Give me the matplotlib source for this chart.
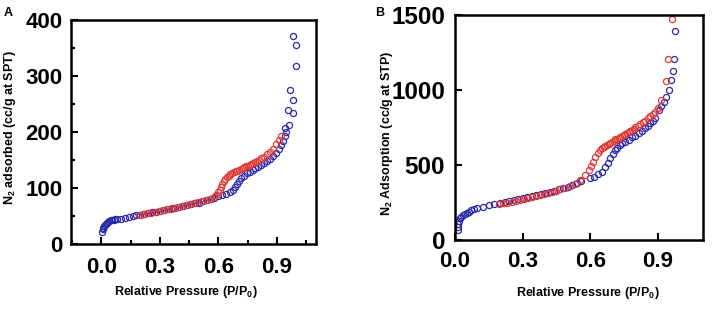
import matplotlib
matplotlib.use("Agg")
import matplotlib.pyplot as plt
from matplotlib.ticker import MultipleLocator

plt.rcParams['font.family'] = ['Liberation Sans', 'DejaVu Sans']
plt.rcParams['font.weight'] = 'bold'
plt.rcParams['mathtext.fontset'] = 'custom'
plt.rcParams['mathtext.rm'] = 'Liberation Sans:bold'
plt.rcParams['mathtext.it'] = 'Liberation Sans:bold'
plt.rcParams['mathtext.bf'] = 'Liberation Sans:bold'
plt.rcParams['mathtext.default'] = 'rm'

# ---- panel A : adsorption (blue) / desorption (red) ----
a_ads_p = [0.005, 0.008, 0.011, 0.014, 0.018, 0.022, 0.027, 0.034, 0.041, 0.048, 0.056, 0.064,
           0.072, 0.08, 0.10, 0.12, 0.14, 0.16, 0.18, 0.20, 0.22, 0.24, 0.26, 0.28, 0.30, 0.32,
           0.34, 0.36, 0.38, 0.40, 0.42, 0.44, 0.46, 0.48, 0.50, 0.52, 0.54, 0.56, 0.58, 0.60,
           0.62, 0.64, 0.66, 0.675, 0.685, 0.695, 0.705, 0.715, 0.73, 0.745, 0.76, 0.775, 0.79,
           0.805, 0.82, 0.835, 0.85, 0.865, 0.88, 0.895, 0.91, 0.92, 0.93, 0.94, 0.945, 0.94,
           0.962, 0.98, 0.957, 0.983, 0.969, 0.995, 0.996, 0.983]
a_ads_v = [22, 26, 29, 32, 34, 36, 38, 39.5, 41, 42, 43, 43.5,
           44, 44.5, 45.5, 47, 48, 49.5, 51, 52, 53.5, 55, 56.5, 58, 59.5, 61,
           62, 63.5, 65, 66.5, 68, 69.5, 71, 72.5, 74, 76, 78, 80, 83, 86,
           88, 90, 93, 96, 101, 107, 113, 118, 122, 126, 129, 132, 135,
           138, 141, 145, 148, 152, 157, 163, 169, 176, 184, 193, 200, 207,
           213, 234, 240, 257, 275, 317, 355, 372]
a_des_p = [0.195, 0.215, 0.235, 0.255, 0.275, 0.295, 0.315, 0.335, 0.355, 0.375, 0.395, 0.415,
           0.435, 0.455, 0.475, 0.495, 0.515, 0.535, 0.555, 0.575, 0.59, 0.60, 0.607, 0.614,
           0.62, 0.627, 0.635, 0.643, 0.652, 0.661, 0.67, 0.679, 0.688, 0.697, 0.706, 0.715,
           0.724, 0.733, 0.742, 0.751, 0.76, 0.769, 0.778, 0.787, 0.797, 0.808, 0.82, 0.833,
           0.847, 0.862, 0.878, 0.895, 0.91, 0.923]
a_des_v = [52, 53, 54.5, 56, 57.5, 59, 60.5, 62, 63, 64.5, 66, 67.5,
           69, 71, 72.5, 74.5, 76.5, 78.5, 81, 84, 88, 92, 97, 102,
           107, 112, 116, 119, 122, 124.5, 126.5, 128, 129.5, 131, 132.5, 134,
           135.5, 137, 138.5, 140, 141.5, 143, 144.5, 146, 148, 150, 153, 156,
           160, 165, 170, 178, 185, 192]

# ---- panel B ----
b_ads_p = [0.012, 0.013, 0.015, 0.018, 0.022, 0.028, 0.035, 0.043, 0.052, 0.062, 0.073, 0.085,
           0.098, 0.125, 0.15, 0.175, 0.20, 0.22, 0.24, 0.26, 0.28, 0.30, 0.32, 0.34, 0.36,
           0.38, 0.40, 0.42, 0.44, 0.46, 0.48, 0.50, 0.52, 0.54, 0.56, 0.60, 0.615, 0.633,
           0.652, 0.667, 0.677, 0.689, 0.701, 0.711, 0.72, 0.73, 0.743, 0.756, 0.77, 0.785,
           0.80, 0.815, 0.83, 0.844, 0.855, 0.867, 0.878, 0.889, 0.904, 0.914, 0.926, 0.938,
           0.948, 0.959, 0.966, 0.97, 0.978]
b_ads_v = [70, 90, 110, 130, 145, 155, 165, 175, 182, 190, 198, 205,
           212, 222, 232, 242, 250, 256, 262, 268, 274, 281, 287, 294, 301,
           308, 315, 322, 330, 338, 347, 356, 366, 378, 392, 411, 422, 440,
           456, 484, 516, 544, 573, 600, 617, 633, 645, 656, 670, 684,
           697, 711, 727, 744, 761, 778, 795, 811, 867, 893, 922, 951,
           1000, 1067, 1129, 1204, 1396]
b_des_p = [0.197, 0.215, 0.233, 0.251, 0.269, 0.287, 0.305, 0.323, 0.341, 0.359, 0.377, 0.395,
           0.413, 0.431, 0.449, 0.467, 0.489, 0.511, 0.533, 0.556, 0.578, 0.593, 0.603, 0.612,
           0.622, 0.633, 0.644, 0.652, 0.659, 0.667, 0.675, 0.682, 0.689, 0.697, 0.704, 0.711,
           0.718, 0.726, 0.733, 0.741, 0.748, 0.756, 0.763, 0.771, 0.778, 0.785, 0.793, 0.80,
           0.811, 0.822, 0.833, 0.844, 0.856, 0.867, 0.878, 0.889, 0.90, 0.915, 0.935, 0.946,
           0.963]
b_des_v = [238, 244, 250, 256, 262, 268, 274, 280, 286, 292, 299, 306,
           313, 321, 330, 340, 350, 360, 373, 398, 433, 467, 493, 522,
           551, 578, 600, 612, 620, 627, 635, 642, 649, 656, 663, 671,
           677, 683, 689, 695, 701, 707, 714, 721, 729, 736, 743, 751,
           762, 773, 784, 796, 812, 827, 842, 856, 880, 935, 1060, 1210,
           1475]

blue = '#2a2aa8'
red = '#e03a36'

fig = plt.figure(figsize=(7.13, 3.11), dpi=100)
axA = fig.add_axes([0.0996, 0.2154, 0.3436, 0.7203])
axB = fig.add_axes([0.638, 0.228, 0.348, 0.7235])

for ax, ads_p, ads_v, des_p, des_v in [(axA, a_ads_p, a_ads_v, a_des_p, a_des_v),
                                       (axB, b_ads_p, b_ads_v, b_des_p, b_des_v)]:
    ax.plot(ads_p, ads_v, 'o', ms=4.4, mfc='none', mec=blue, mew=0.9)
    ax.plot(des_p, des_v, 'o', ms=4.4, mfc='none', mec=red, mew=0.9)
    for s in ax.spines.values():
        s.set_linewidth(1.8)
    ax.tick_params(which='both', direction='in', width=1.5)
    ax.tick_params(which='major', length=5)
    ax.tick_params(which='minor', length=3)

axA.set_xlim(-0.155, 1.1)
axA.set_ylim(0, 400)
axA.xaxis.set_minor_locator(MultipleLocator(0.15))
axA.yaxis.set_major_locator(MultipleLocator(100))
axA.yaxis.set_minor_locator(MultipleLocator(50))
axA.set_xticks([0.0, 0.3, 0.6, 0.9])
axA.set_xticklabels(['0.0', '0.3', '0.6', '0.9'])
axA.tick_params(axis='x', labelsize=16, pad=9)
axA.tick_params(axis='y', labelsize=16, pad=6)

axB.set_xlim(0, 1.1)
axB.set_ylim(0, 1500)
axB.set_xticks([0.0, 0.3, 0.6, 0.9])
axB.set_xticklabels(['0.0', '0.3', '0.6', '0.9'])
axB.yaxis.set_major_locator(MultipleLocator(500))
axB.tick_params(axis='x', labelsize=16, pad=8)
axB.tick_params(axis='y', labelsize=17.5, pad=7)

fig.text(0.014, 0.59, 'N$_2$ adsorbed (cc/g at SPT)', rotation=90, ha='center', va='center', fontsize=9)
fig.text(0.261, 0.061, 'Relative Pressure (P/P$_0$)', ha='center', va='center', fontsize=9)
fig.text(0.543, 0.572, 'N$_2$ Adsorption (cc/g at STP)', rotation=90, ha='center', va='center', fontsize=9)
fig.text(0.825, 0.058, 'Relative Pressure (P/P$_0$)', ha='center', va='center', fontsize=9)
fig.text(0.011, 0.958, 'A', ha='center', va='center', fontsize=9)
fig.text(0.532, 0.958, 'B', ha='center', va='center', fontsize=9)

fig.savefig('out.png', dpi=100)
